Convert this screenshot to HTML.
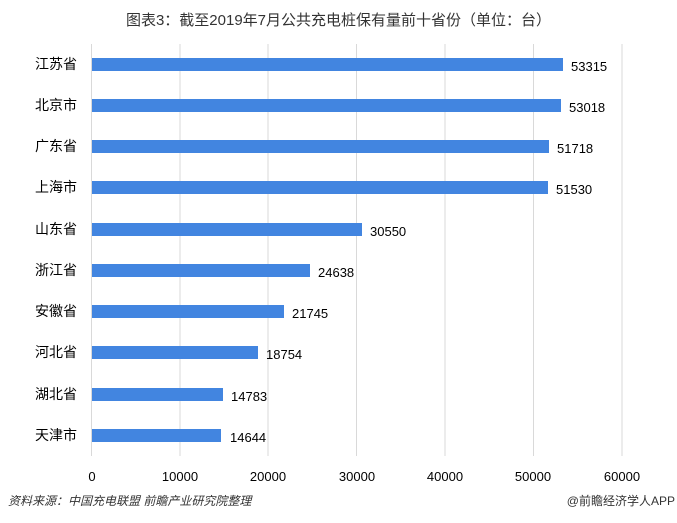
<!DOCTYPE html><html><head><meta charset="utf-8"><style>
body{margin:0;width:677px;height:523px;background:#fff;font-family:"Liberation Sans","Noto Sans CJK SC",sans-serif;position:relative;overflow:hidden}
.t{position:absolute;white-space:nowrap}
</style></head><body>
<div class="t" style="left:0;width:677px;text-align:center;top:9px;font-size:15px;color:#333">图表3：截至2019年7月公共充电桩保有量前十省份（单位：台）</div>
<svg width="677" height="523" style="position:absolute;left:0;top:0" font-family="Liberation Sans,Noto Sans CJK SC,sans-serif">
<g stroke="#d9d9d9" stroke-width="1">
<line x1="91.5" y1="44" x2="91.5" y2="456"/><line x1="180" y1="44" x2="180" y2="456"/><line x1="268" y1="44" x2="268" y2="456"/><line x1="356.5" y1="44" x2="356.5" y2="456"/><line x1="445" y1="44" x2="445" y2="456"/><line x1="533.5" y1="44" x2="533.5" y2="456"/><line x1="622" y1="44" x2="622" y2="456"/>
</g>
<g font-size="13" fill="#000" text-anchor="middle">
<text x="92" y="481">0</text><text x="180" y="481">10000</text><text x="268" y="481">20000</text><text x="357" y="481">30000</text><text x="445" y="481">40000</text><text x="533" y="481">50000</text><text x="622" y="481">60000</text>
</g>
<g fill="#4285e0">
<rect x="92" y="58" width="471" height="13"/>
<rect x="92" y="99" width="469" height="13"/>
<rect x="92" y="140" width="457" height="13"/>
<rect x="92" y="181" width="456" height="13"/>
<rect x="92" y="223" width="270" height="13"/>
<rect x="92" y="264" width="218" height="13"/>
<rect x="92" y="305" width="192" height="13"/>
<rect x="92" y="346" width="166" height="13"/>
<rect x="92" y="388" width="131" height="13"/>
<rect x="92" y="429" width="129" height="13"/>
</g>
<g font-size="13" fill="#000">
<text x="571" y="71">53315</text><text x="569" y="112">53018</text><text x="557" y="153">51718</text><text x="556" y="194">51530</text><text x="370" y="236">30550</text><text x="318" y="277">24638</text><text x="292" y="318">21745</text><text x="266" y="359">18754</text><text x="231" y="401">14783</text><text x="230" y="442">14644</text>
</g>
<g font-size="14" fill="#000" text-anchor="end">
<text x="77" y="69">江苏省</text><text x="77" y="110">北京市</text><text x="77" y="151">广东省</text><text x="77" y="192">上海市</text><text x="77" y="234">山东省</text><text x="77" y="275">浙江省</text><text x="77" y="316">安徽省</text><text x="77" y="357">河北省</text><text x="77" y="399">湖北省</text><text x="77" y="440">天津市</text>
</g>
<text x="8" y="505" font-size="12" font-style="italic" fill="#333">资料来源：中国充电联盟 前瞻产业研究院整理</text>
<text x="675" y="505" font-size="12" fill="#333" text-anchor="end">@前瞻经济学人APP</text>
</svg>
</body></html>
